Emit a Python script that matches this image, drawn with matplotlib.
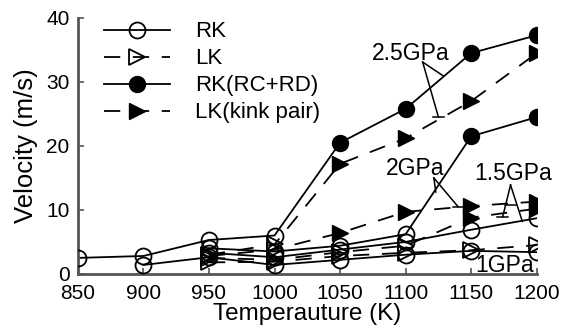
import numpy as np
import matplotlib.pyplot as plt

plt.rcParams['font.family'] = ['Liberation Sans', 'DejaVu Sans']

temps = [850, 900, 950, 1000, 1050, 1100, 1150, 1200]
nan = np.nan

# RK (solid) and LK (dashed) velocities per pressure, m/s
rk_25 = [2.5, 2.8, 5.3, 6.0, 20.5, 25.8, 34.5, 37.3]
lk_25 = [nan, nan, 3.0, 4.6, 17.2, 21.2, 27.0, 34.5]
rk_20 = [nan, nan, 4.0, 3.5, 4.4, 6.2, 21.5, 24.5]
lk_20 = [nan, nan, 2.8, 3.8, 6.4, 9.7, 10.6, 11.3]
rk_15 = [nan, nan, 3.3, 2.6, 3.8, 5.0, 6.9, 8.7]
lk_15 = [nan, nan, 2.5, 2.2, 3.4, 4.4, 8.8, 10.2]
rk_10 = [nan, 1.4, 2.6, 1.4, 2.2, 3.0, 3.6, 3.4]
lk_10 = [nan, nan, 1.8, 1.9, 2.8, 3.3, 3.7, 4.5]

# first temperature index where the filled (RC+RD / kink pair) marker is used
rk_sets = [(rk_25, 4), (rk_20, 6), (rk_15, 99), (rk_10, 99)]
lk_sets = [(lk_25, 4), (lk_20, 4), (lk_15, 6), (lk_10, 99)]

fig = plt.figure(figsize=(5.68, 3.32), dpi=100)
ax = fig.add_axes([0.137, 0.175, 0.808, 0.771])

t = np.array(temps)
lw = 1.3
ms = 11.5
dash = (0, (9, 7))

for vals, k in rk_sets:
    v = np.array(vals)
    ax.plot(t, v, color='k', lw=lw, zorder=2)
    ax.plot(t[:k], v[:k], ls='none', marker='o', ms=ms, mfc='none', mec='k', mew=1.3, zorder=3)
    ax.plot(t[k:], v[k:], ls='none', marker='o', ms=ms, mfc='k', mec='k', zorder=3)

for vals, k in lk_sets:
    v = np.array(vals)
    ax.plot(t, v, color='k', lw=lw, ls=dash, zorder=2)
    ax.plot(t[:k], v[:k], ls='none', marker='>', ms=ms, mfc='none', mec='k', mew=1.3, zorder=3)
    ax.plot(t[k:], v[k:], ls='none', marker='>', ms=ms, mfc='k', mec='k', zorder=3)

# legend
h1, = ax.plot([], [], color='k', lw=lw, marker='o', ms=ms, mfc='none', mew=1.3)
h2, = ax.plot([], [], color='k', lw=lw, ls=dash, marker='>', ms=ms, mfc='none', mew=1.3)
h3, = ax.plot([], [], color='k', lw=lw, marker='o', ms=ms, mfc='k')
h4, = ax.plot([], [], color='k', lw=lw, ls=dash, marker='>', ms=ms, mfc='k')
ax.legend([h1, h2, h3, h4], ['RK', 'LK', 'RK(RC+RD)', 'LK(kink pair)'],
          loc='upper left', bbox_to_anchor=(0.013, 1.065), frameon=False,
          fontsize=16, handlelength=3.0, labelspacing=0.27, handletextpad=1.1)

# pressure annotations
kw = dict(color='k', lw=1.1)
ax.text(1104, 33.4, '2.5GPa', fontsize=16.5, ha='center', va='baseline')
ax.plot([1113, 1129], [33.1, 30.9], **kw)
ax.plot([1113, 1125], [33.1, 24.5], **kw)
ax.plot([1121, 1129], [24.5, 24.5], **kw)

ax.text(1107.5, 15.5, '2GPa', fontsize=16.5, ha='center', va='baseline')
ax.plot([1121.5, 1123], [15.0, 12.8], **kw)
ax.plot([1121.5, 1140], [15.0, 10.5], **kw)
ax.plot([1136, 1144], [10.5, 10.5], **kw)

ax.text(1182, 14.7, '1.5GPa', fontsize=16.5, ha='center', va='baseline')
ax.plot([1180, 1174], [13.9, 8.9], **kw)
ax.plot([1180, 1189], [13.9, 8.2], **kw)
ax.plot([1170, 1178], [8.9, 8.9], **kw)
ax.plot([1176, 1184], [10.8, 10.8], **kw)

ax.text(1175.5, 0.35, '1GPa', fontsize=16.5, ha='center', va='baseline')

ax.set_xlim(850, 1200)
ax.set_ylim(0, 40)
ax.set_xticks(temps)
ax.set_yticks([0, 10, 20, 30, 40])
ax.tick_params(direction='in', labelsize=15, length=4, color='#555555', width=1.2)
ax.tick_params(axis='y', pad=6)
ax.tick_params(axis='x', pad=7)
for s in ['top', 'right']:
    ax.spines[s].set_visible(False)
for s in ['left', 'bottom']:
    ax.spines[s].set_color('#555555')
    ax.spines[s].set_linewidth(2)
ax.set_xlabel('Temperauture (K)', fontsize=17.5, labelpad=0)
ax.set_ylabel('Velocity (m/s)', fontsize=18.5, labelpad=6)

fig.savefig('out.png', dpi=100)
